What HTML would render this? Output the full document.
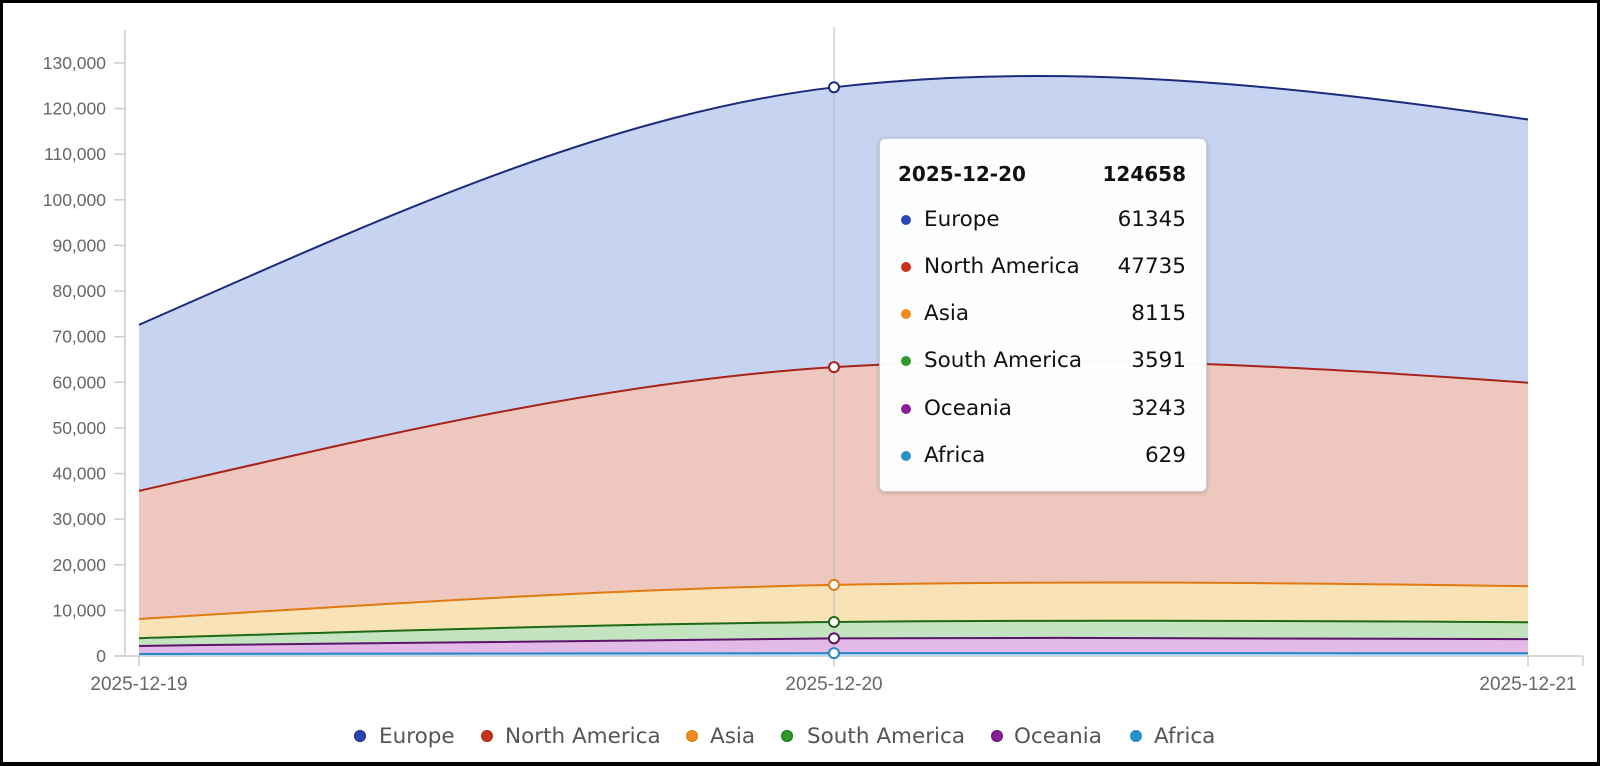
<!DOCTYPE html>
<html><head><meta charset="utf-8">
<style>
html,body{margin:0;padding:0;background:#fff;}
#wrap{position:relative;width:1600px;height:766px;box-sizing:border-box;border:3px solid #000;border-bottom-width:4px;background:#fff;overflow:hidden;}
svg{position:absolute;left:-3px;top:-3px;}
.tip{position:absolute;left:876px;top:135px;width:326px;height:352px;background:rgba(255,255,255,0.97);border:1px solid #ccc;border-radius:6px;box-shadow:0 1px 4px rgba(0,0,0,0.2);font-family:"DejaVu Sans","Liberation Sans",sans-serif;font-size:21.5px;color:#111;}
.row{position:absolute;left:0;width:100%;height:30px;line-height:30px;}
.row .n{position:absolute;left:44px;}
.row .v{position:absolute;right:20px;}
.row .d{position:absolute;left:21px;top:10px;width:10px;height:10px;border-radius:50%;}
.t{font-weight:bold;font-size:20px;}
.t .n{left:18px;}
</style></head><body>
<div id="wrap">
<svg id="s" width="1600" height="766" xmlns="http://www.w3.org/2000/svg" font-family="Liberation Sans, sans-serif"></svg>
<div class="tip">
 <div class="row t" style="top:20px"><span class="n">2025-12-20</span><span class="v">124658</span></div>
 <div class="row" style="top:66px"><span class="d" style="background:#2a45b8"></span><span class="n">Europe</span><span class="v">61345</span></div>
 <div class="row" style="top:113px"><span class="d" style="background:#c8321a"></span><span class="n">North America</span><span class="v">47735</span></div>
 <div class="row" style="top:160px"><span class="d" style="background:#f08a1c"></span><span class="n">Asia</span><span class="v">8115</span></div>
 <div class="row" style="top:207px"><span class="d" style="background:#2e9a2a"></span><span class="n">South America</span><span class="v">3591</span></div>
 <div class="row" style="top:255px"><span class="d" style="background:#8a1e9a"></span><span class="n">Oceania</span><span class="v">3243</span></div>
 <div class="row" style="top:302px"><span class="d" style="background:#2a90c8"></span><span class="n">Africa</span><span class="v">629</span></div>
</div>
</div>
<script>
var s=document.getElementById('s');
var X=[139,834,1528],Y0=656,K=0.004562;
function y(v){return Y0-v*K;}
var series=[
 ["Europe",[72600,124658,117600],"#1c2a7c","#c6d3f1","#2a45b8"],
 ["North America",[36200,63313,59900],"#a8231a","#eec8be","#c8321a"],
 ["Asia",[8100,15578,15300],"#e07a12","#f9e2b6","#f08a1c"],
 ["South America",[3900,7463,7400],"#1f6a14","#c4e3c0","#2e9a2a"],
 ["Oceania",[2200,3872,3700],"#5a1468","#e3b9e8","#8a1e9a"],
 ["Africa",[450,629,600],"#2a86c0","#b9d8ee","#2a90c8"]
];
function seg(v){
 var M1=1.5*(v[0]-2*v[1]+v[2]);
 var sl=[(v[1]-v[0])-M1/6,((v[2]-v[1])-M1/3)*0.8,(v[2]-v[1])+M1/6];
 var h=X[1]-X[0],h2=X[2]-X[1];
 return [[X[0],y(v[0])],[X[0]+h/3,y(v[0]+sl[0]/3)],[X[1]-h/3,y(v[1]-sl[1]/3)],[X[1],y(v[1])],[X[1]+h2/3,y(v[1]+sl[1]/3)],[X[2]-h2/3,y(v[2]-sl[2]/3)],[X[2],y(v[2])]];
}
function fwd(p){return "M"+p[0]+" C"+p[1]+" "+p[2]+" "+p[3]+" C"+p[4]+" "+p[5]+" "+p[6];}
function rev(p){return "L"+p[6]+" C"+p[5]+" "+p[4]+" "+p[3]+" C"+p[2]+" "+p[1]+" "+p[0];}
var h='';
h+='<line x1="125" y1="30" x2="125" y2="656" stroke="#ccc" stroke-width="1.5"/>';
for(var i=0;i<=13;i++){var yy=y(i*10000);h+='<line x1="114" y1="'+yy+'" x2="125" y2="'+yy+'" stroke="#ccc" stroke-width="1.5"/>';
 var lab=i==0?'0':(i*10)+',000';h+='<text x="106" y="'+(yy+6)+'" text-anchor="end" font-size="17.5" fill="#666">'+lab+'</text>';}
h+='<line x1="114" y1="656" x2="1583" y2="656" stroke="#ccc" stroke-width="1.5"/>';
[139,834,1528,1583].forEach(function(x){h+='<line x1="'+x+'" y1="656" x2="'+x+'" y2="666" stroke="#ccc" stroke-width="1.5"/>';});
h+='<text x="139" y="690" text-anchor="middle" font-size="19" fill="#666">2025-12-19</text>';
h+='<text x="834" y="690" text-anchor="middle" font-size="19" fill="#666">2025-12-20</text>';
h+='<text x="1528" y="690" text-anchor="middle" font-size="19" fill="#666">2025-12-21</text>';
for(var i=0;i<series.length;i++){
 var p=seg(series[i][1]);
 var below=i<series.length-1?seg(series[i+1][1]):null;
 var d=fwd(p);
 if(below) d+=" "+rev(below)+" Z"; else d+=" L1528 656 L139 656 Z";
 h+='<path d="'+d+'" fill="'+series[i][3]+'" stroke="none"/>';
}
h+='<line x1="834" y1="27" x2="834" y2="656" stroke="#bbb" stroke-width="1"/>';
for(var i=0;i<series.length;i++){
 h+='<path d="'+fwd(seg(series[i][1]))+'" fill="none" stroke="'+series[i][2]+'" stroke-width="2"/>';
}
for(var i=0;i<series.length;i++){
 h+='<circle cx="834" cy="'+y(series[i][1][1])+'" r="5" fill="#fff" stroke="'+series[i][2]+'" stroke-width="2"/>';
}
var L=[[360,379],[487,505],[692,710],[787,807],[997,1014],[1136,1154]];
for(var i=0;i<6;i++){
 h+='<circle cx="'+L[i][0]+'" cy="736" r="5.5" fill="'+series[i][4]+'" stroke="'+series[i][2]+'" stroke-width="1"/>';
 h+='<text x="'+L[i][1]+'" y="743" font-size="21.5" fill="#555" font-family="DejaVu Sans, sans-serif">'+series[i][0]+'</text>';
}
s.innerHTML=h;
</script>
</body></html>
